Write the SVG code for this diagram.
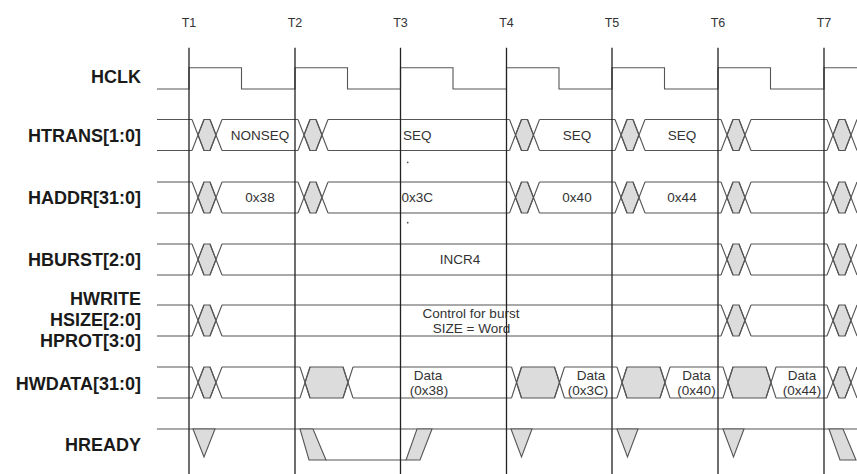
<svg xmlns="http://www.w3.org/2000/svg" xmlns:xlink="http://www.w3.org/1999/xlink" width="857" height="474" viewBox="0 0 857 474">
<style>
.bg{fill:#ffffff}
.lbl{font-family:"Liberation Sans",Arial,sans-serif;font-weight:bold;font-size:18px;fill:#1a1a1a;text-anchor:end}
.tl{font-family:"Liberation Sans",Arial,sans-serif;font-size:12.5px;fill:#333;text-anchor:middle}
.vl{font-family:"Liberation Sans",Arial,sans-serif;font-size:13.5px;fill:#333;text-anchor:middle}
.vs{font-family:"Liberation Sans",Arial,sans-serif;font-size:13.5px;fill:#333;text-anchor:start}
.sig{fill:none;stroke:#555;stroke-width:1.1}
.gf{fill:#dcdcdc;stroke:#555;stroke-width:1.1;stroke-linejoin:miter}
.grid{fill:none;stroke:#222;stroke-width:1.3}
</style>
<defs>
<g id="xs">
<polygon class="gf" points="6,15.5 12,0 18,0 24,15.5 18,31 12,31"/>
<path class="sig" d="M0,0L12,31M0,31L12,0M18,0L30,31M18,31L30,0"/>
</g>
<g id="xb">
<polygon class="gf" points="5,15.5 10,0 43,0 48,15.5 43,31 10,31"/>
<path class="sig" d="M0,0L10,31M0,31L10,0M43,0L53,31M43,31L53,0"/>
</g>
</defs>
<rect class="bg" x="0" y="0" width="857" height="474"/>

<g id="time-labels">
<text class="tl" x="189" y="27">T1</text>
<text class="tl" x="295" y="27">T2</text>
<text class="tl" x="400.5" y="27">T3</text>
<text class="tl" x="506.5" y="27">T4</text>
<text class="tl" x="612" y="27">T5</text>
<text class="tl" x="718" y="27">T6</text>
<text class="tl" x="824" y="27">T7</text>
</g>

<g id="signal-names">
<text class="lbl" x="141" y="82.5">HCLK</text>
<text class="lbl" x="141" y="141.5">HTRANS[1:0]</text>
<text class="lbl" x="141" y="204">HADDR[31:0]</text>
<text class="lbl" x="141" y="265.5">HBURST[2:0]</text>
<text class="lbl" x="141" y="305">HWRITE</text>
<text class="lbl" x="141" y="326">HSIZE[2:0]</text>
<text class="lbl" x="141" y="347">HPROT[3:0]</text>
<text class="lbl" x="141" y="390">HWDATA[31:0]</text>
<text class="lbl" x="141" y="450.5">HREADY</text>
</g>

<g id="hclk">
<path class="sig" d="M157,89H189V67.7H241.5V89H295V67.7H347.5V89H400.5V67.7H453V89H506.5V67.7H559V89H612V67.7H664.5V89H718V67.7H770.5V89H824V67.7H857"/>
</g>

<g id="htrans">
<path class="sig" d="M157,119.5H192M222,119.5H298M328,119.5H509.5M539.5,119.5H615M645,119.5H721M751,119.5H827M157,150.5H192M222,150.5H298M328,150.5H509.5M539.5,150.5H615M645,150.5H721M751,150.5H827"/>
<use xlink:href="#xs" x="192" y="119.5"/>
<use xlink:href="#xs" x="298" y="119.5"/>
<use xlink:href="#xs" x="509.5" y="119.5"/>
<use xlink:href="#xs" x="615" y="119.5"/>
<use xlink:href="#xs" x="721" y="119.5"/>
<use xlink:href="#xs" x="827" y="119.5"/>
<text class="vl" x="260" y="140">NONSEQ</text>
<text class="vs" x="403" y="140">SEQ</text>
<text class="vl" x="577" y="140">SEQ</text>
<text class="vl" x="682" y="140">SEQ</text>
</g>

<g id="haddr">
<path class="sig" d="M157,182H192M222,182H298M328,182H509.5M539.5,182H615M645,182H721M751,182H827M157,213H192M222,213H298M328,213H509.5M539.5,213H615M645,213H721M751,213H827"/>
<use xlink:href="#xs" x="192" y="182"/>
<use xlink:href="#xs" x="298" y="182"/>
<use xlink:href="#xs" x="509.5" y="182"/>
<use xlink:href="#xs" x="615" y="182"/>
<use xlink:href="#xs" x="721" y="182"/>
<use xlink:href="#xs" x="827" y="182"/>
<text class="vl" x="260" y="202">0x38</text>
<text class="vs" x="401.5" y="202">0x3C</text>
<text class="vl" x="577" y="202">0x40</text>
<text class="vl" x="682" y="202">0x44</text>
<circle cx="407.7" cy="162.3" r="0.9" fill="#555"/>
<circle cx="407.7" cy="222.7" r="0.9" fill="#555"/>
</g>

<g id="hburst">
<path class="sig" d="M157,244H192M222,244H721M751,244H827M157,275H192M222,275H721M751,275H827"/>
<use xlink:href="#xs" x="192" y="244"/>
<use xlink:href="#xs" x="721" y="244"/>
<use xlink:href="#xs" x="827" y="244"/>
<text class="vl" x="460" y="263.5">INCR4</text>
</g>

<g id="hwrite">
<path class="sig" d="M157,305H192M222,305H721M751,305H827M157,336H192M222,336H721M751,336H827"/>
<use xlink:href="#xs" x="192" y="305"/>
<use xlink:href="#xs" x="721" y="305"/>
<use xlink:href="#xs" x="827" y="305"/>
<text class="vl" x="471" y="318">Control for burst</text>
<text class="vl" x="471.5" y="333">SIZE = Word</text>
</g>

<g id="hwdata">
<path class="sig" d="M157,367H192M222,367H300M353,367H511.5M564.5,367H617M670,367H723M776,367H827M157,398H192M222,398H300M353,398H511.5M564.5,398H617M670,398H723M776,398H827"/>
<use xlink:href="#xs" x="192" y="367"/>
<use xlink:href="#xb" x="300" y="367"/>
<use xlink:href="#xb" x="511.5" y="367"/>
<use xlink:href="#xb" x="617" y="367"/>
<use xlink:href="#xb" x="723" y="367"/>
<use xlink:href="#xs" x="827" y="367"/>
<text class="vl" x="428" y="379.5">Data</text>
<text class="vl" x="429" y="395">(0x38)</text>
<text class="vl" x="591" y="379.5">Data</text>
<text class="vl" x="588" y="395">(0x3C)</text>
<text class="vl" x="696.5" y="379.5">Data</text>
<text class="vl" x="696.5" y="395">(0x40)</text>
<text class="vl" x="802" y="379.5">Data</text>
<text class="vl" x="802" y="395">(0x44)</text>
</g>

<g id="hready">
<path class="sig" d="M157,429H857M326,460H406"/>
<polygon class="gf" points="193,429 215,429 204,457"/>
<polygon class="gf" points="300,429 313,429 326,460 309,460"/>
<polygon class="gf" points="406,460 420,460 432,429 417,429"/>
<polygon class="gf" points="511,429 532,429 521.5,457"/>
<polygon class="gf" points="617,429 638,429 627.5,457"/>
<polygon class="gf" points="723,429 744,429 733.5,457"/>
<polygon class="gf" points="829,429 843,429 856,460 840,460"/>
</g>

<g id="connectors">
<path class="grid" d="M189,47.7V474M295,47.7V474M400.5,47.7V474M506.5,47.7V474M612,47.7V474M718,47.7V474M824,47.7V474"/>
</g>
</svg>
